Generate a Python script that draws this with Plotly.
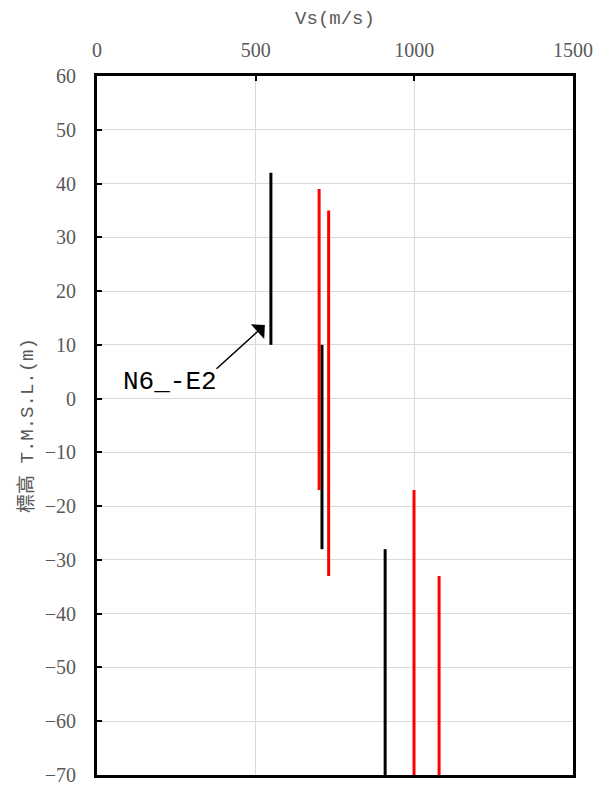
import plotly.graph_objects as go

# Vs profile segments (m/s) with elevation top/bottom (m)
black_vs = [548, 709, 908]
black_top = [42, 10, -28]
black_bottom = [10, -28, -70]

red_vs = [700, 730, 999, 1078]
red_top = [39, 35, -17, -33]
red_bottom = [-17, -33, -70, -70]

x_ticks = [0, 500, 1000, 1500]
y_ticks = list(range(-70, 61, 10))

SERIF = "Liberation Serif, Noto Sans CJK TC"
MONO = "Liberation Mono, Noto Sans CJK TC"
GRAY = "#595959"

fig = go.Figure()
for v, t, b in zip(black_vs, black_top, black_bottom):
    fig.add_trace(go.Scatter(x=[v, v], y=[t, b], mode="lines",
                             line=dict(color="black", width=3), showlegend=False))
for v, t, b in zip(red_vs, red_top, red_bottom):
    fig.add_trace(go.Scatter(x=[v, v], y=[t, b], mode="lines",
                             line=dict(color="#ff0000", width=3), showlegend=False))

# label with arrow
fig.add_annotation(x=529, y=13.7, ax=372, ay=5.3, xref="x", yref="y", axref="x", ayref="y",
                   text="", showarrow=True, arrowhead=1, arrowsize=2.2, arrowwidth=1.5,
                   arrowcolor="black")
fig.add_annotation(x=230, y=3.1, xref="x", yref="y", text="N6_-E2", showarrow=False,
                   font=dict(family=MONO, size=26, color="black"))

fig.update_xaxes(side="top", range=[0, 1500], tickvals=x_ticks, showgrid=True,
                 gridcolor="#d9d9d9", gridwidth=1, zeroline=False, automargin=False,
                 showline=True, linecolor="black", linewidth=3, mirror=True,
                 ticks="inside", ticklen=5, tickwidth=2, tickcolor="black",
                 ticklabelstandoff=8,
                 tickfont=dict(family=SERIF, size=20, color=GRAY),
                 title=dict(text="Vs(m/s)", font=dict(family=MONO, size=19, color=GRAY), standoff=10))
fig.update_yaxes(range=[-70, 60], tickvals=y_ticks, showgrid=True,
                 gridcolor="#d9d9d9", gridwidth=1, zeroline=False, automargin=False,
                 showline=True, linecolor="black", linewidth=3, mirror=True,
                 ticks="inside", ticklen=5, tickwidth=2, tickcolor="black",
                 ticklabelstandoff=14,
                 tickfont=dict(family=SERIF, size=20, color=GRAY),
                 title=dict(text="標高 T.M.S.L.(m)", font=dict(family=MONO, size=19, color=GRAY), standoff=7))

# page body adds an 8px offset, so the figure is slightly smaller than the window
fig.update_layout(width=593, height=780, margin=dict(l=89, r=28, t=68, b=13),
                  paper_bgcolor="white", plot_bgcolor="white")

fig.write_html("out.html")
